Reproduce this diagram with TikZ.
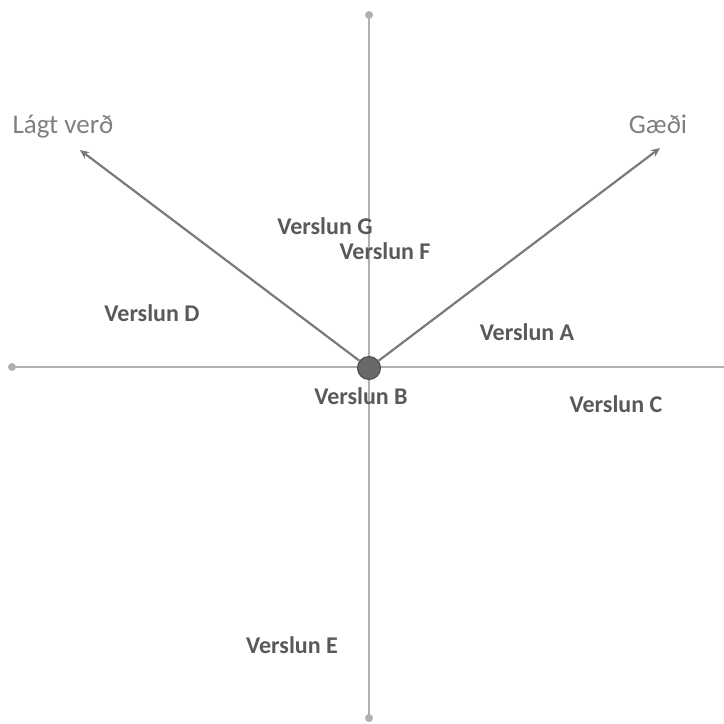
\documentclass[tikz,border=0pt]{standalone}
\usepackage{fontspec}
\setmainfont{Carlito}
\usetikzlibrary{arrows.meta}
\definecolor{axisgray}{HTML}{B0B0B0}
\definecolor{arrgray}{HTML}{7A7A7A}
\definecolor{lblgray}{HTML}{595959}
\definecolor{titlegray}{HTML}{7F7F7F}
\tikzset{
  axis/.style={draw=axisgray, line width=2pt},
  enddot/.style={circle, fill=axisgray, inner sep=0pt, minimum size=8pt},
  dirarrow/.style={draw=arrgray, line width=2.2pt, -{Stealth[length=9pt,width=8pt]}},
  store/.style={font=\bfseries\fontsize{24}{26}\selectfont, text=lblgray, inner sep=0pt},
  axislabel/.style={font=\fontsize{27}{29}\selectfont, text=titlegray, inner sep=0pt}
}
\begin{document}
\begin{tikzpicture}[x=1pt,y=-1pt]
\useasboundingbox (0,0) rectangle (724,724);
\coordinate (top) at (369,15);
\coordinate (bot) at (369,718);
\coordinate (left) at (12,367);
\coordinate (right) at (726,367);
\node[enddot] (topdot) at (top) {};
\node[enddot] (botdot) at (bot) {};
\node[enddot] (leftdot) at (left) {};
\draw[axis] (topdot.center) -- (botdot.center);
\draw[axis] (leftdot.center) -- (right);
\coordinate (lend) at (80,150);
\coordinate (rend) at (660,148);
\node[circle, fill=arrgray!85!black, draw=arrgray!60!black, line width=1pt, minimum size=23pt, inner sep=0pt] (origin) at (369,368) {};
\draw[dirarrow] (origin) -- (lend);
\draw[dirarrow] (origin) -- (rend);
\node[axislabel] (lagt) at (63,127) {Lágt verð};
\node[axislabel] (gaedi) at (658,124) {Gæði};
\node[store] (G) at (325,226) {Verslun G};
\node[store] (F) at (385,251) {Verslun F};
\node[store] (D) at (152,313) {Verslun D};
\node[store] (A) at (527,332) {Verslun A};
\node[store] (B) at (361,396) {Verslun B};
\node[store] (C) at (616,404) {Verslun C};
\node[store] (E) at (292,645) {Verslun E};
\end{tikzpicture}
\end{document}
